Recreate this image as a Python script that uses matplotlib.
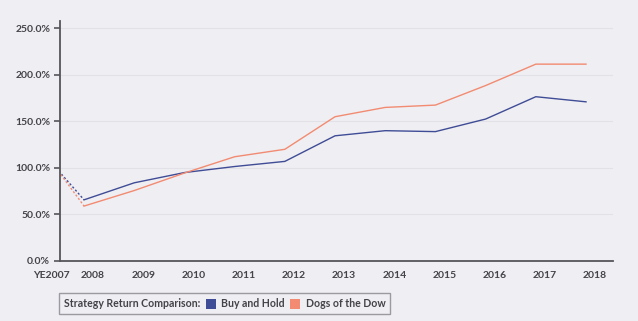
import matplotlib
matplotlib.use("Agg")
import matplotlib.pyplot as plt
import matplotlib.transforms as mtransforms
from matplotlib.offsetbox import AnchoredOffsetbox, HPacker, TextArea, DrawingArea
from matplotlib.patches import Rectangle
from matplotlib.ticker import FuncFormatter

plt.rcParams['font.family'] = ['Lato', 'DejaVu Sans']

# данные
years = ["YE2007", "2008", "2009", "2010", "2011", "2012", "2013",
         "2014", "2015", "2016", "2017", "2018"]
buy_hold = [100, 65.7, 84, 95, 101.5, 107, 134.5, 140, 139, 152.5, 176.5, 171]
dogs = [100, 59, 75.7, 94.5, 112, 120, 155, 165, 167.5, 188.5, 211.5, 211.5]

c_bh = "#3f4c96"
c_dogs = "#f28b72"
bg = "#efeef2"
txt = "#444448"

# позиции по оси x (YE2007 немного левее оси, как на исходнике)
xs = [0.44] + list(range(1, len(years)))

fig = plt.figure(figsize=(6.38, 3.21), dpi=100, facecolor=bg)
ax = fig.add_axes([0.094, 0.187, 0.867, 0.748], facecolor=bg)

for vals, col in [(buy_hold, c_bh), (dogs, c_dogs)]:
    ax.plot(xs[:2], vals[:2], color=col, lw=1.0, ls=(0, (1.5, 1.5)))
    ax.plot(xs[1:], vals[1:], color=col, lw=1.0)

ax.set_yticks([0, 50, 100, 150, 200, 250])
ax.yaxis.set_major_formatter(FuncFormatter(lambda v, p: f"{v:.1f}%"))
ax.set_xticks([0.53] + [i + 0.18 for i in range(1, len(years))])
ax.set_xticklabels(years)
ax.set_xlim(0.52, 11.54)
ax.set_ylim(0, 258)

ax.grid(axis='y', color="#e2e1e7", lw=0.8)
ax.set_axisbelow(True)
for s in ['top', 'right']:
    ax.spines[s].set_visible(False)
for s in ['left', 'bottom']:
    ax.spines[s].set_color("#55555a")
    ax.spines[s].set_linewidth(1.3)
ax.tick_params(axis='y', length=4.5, width=1.2, color="#55555a", pad=2.5,
               labelsize=7.5, labelcolor=txt)
ax.tick_params(axis='x', length=0, pad=7, labelsize=7.5, labelcolor=txt)
for lab in ax.get_xticklabels() + ax.get_yticklabels():
    lab.set_fontweight('bold')
# подпись YE2007 сдвинута левее начала оси
first = ax.get_xticklabels()[0]
first.set_transform(first.get_transform() +
                    mtransforms.ScaledTranslation(-9 / 100, 0, fig.dpi_scale_trans))

# легенда внизу
def square(col):
    d = DrawingArea(7, 7, 0, 0)
    d.add_artist(Rectangle((0, -0.5), 7, 7, fc=col, ec='none'))
    return d

tp = dict(fontsize=7.6, color=txt, fontweight='bold')
box = HPacker(children=[
    TextArea("Strategy Return Comparison:", textprops=tp),
    square(c_bh), TextArea("Buy and Hold", textprops=tp),
    square(c_dogs), TextArea("Dogs of the Dow", textprops=tp),
], sep=4, align='center', pad=0)
leg = AnchoredOffsetbox(loc='lower left', child=box, pad=0.35, borderpad=0,
                        frameon=True, bbox_to_anchor=(0.0925, 0.022),
                        bbox_transform=fig.transFigure)
leg.patch.set_facecolor(bg)
leg.patch.set_edgecolor("#9a9aa0")
leg.patch.set_linewidth(1.0)
leg.patch.set_boxstyle("square", pad=0)
fig.add_artist(leg)

fig.savefig("out.png", dpi=100, facecolor=bg)
